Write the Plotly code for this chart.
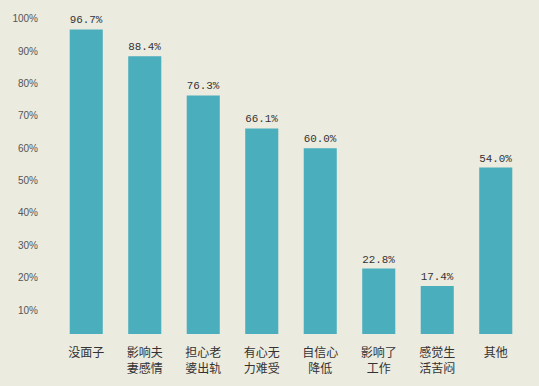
import plotly.graph_objects as go

categories = ["没面子", "影响夫<br>妻感情", "担心老<br>婆出轨", "有心无<br>力难受",
              "自信心<br>降低", "影响了<br>工作", "感觉生<br>活苦闷", "其他"]
values = [96.7, 88.4, 76.3, 66.1, 60.0, 22.8, 17.4, 54.0]
value_labels = ["96.7%", "88.4%", "76.3%", "66.1%", "60.0%", "22.8%", "17.4%", "54.0%"]
tick_vals = [10, 20, 30, 40, 50, 60, 70, 80, 90, 100]
tick_text = ["10%", "20%", "30%", "40%", "50%", "60%", "70%", "80%", "90%", "100%"]

fig = go.Figure()
fig.add_trace(go.Bar(
    x=categories, y=values,
    text=value_labels, textposition="outside",
    textfont=dict(family="Liberation Mono, DejaVu Sans Mono, monospace", size=11, color="#333333"),
    marker=dict(color="#4aaebc", line=dict(width=0)),
    cliponaxis=False,
    hoverinfo="skip",
))

fig.update_layout(
    width=539, height=386,
    margin=dict(l=57, r=14, t=9, b=52, autoexpand=False),
    paper_bgcolor="#ecebe0", plot_bgcolor="#ecebe0",
    bargap=0.435,
    showlegend=False,
    xaxis=dict(showgrid=False, showline=False, zeroline=False, ticks="", automargin=False,
               tickfont=dict(family="Noto Sans CJK SC", size=12, color="#333333"),
               ticklabelstandoff=10),
    yaxis=dict(range=[2.6, 103], tickvals=tick_vals, ticktext=tick_text, automargin=False,
               showgrid=False, showline=False, zeroline=False, ticks="",
               tickfont=dict(family="Liberation Sans, Arial, sans-serif", size=10, color="#555555"),
               ticklabelstandoff=18),
)

fig.write_html("out.html", config={"displayModeBar": False},
               post_script="document.body.style.margin='0';document.body.style.background='#ecebe0';")
